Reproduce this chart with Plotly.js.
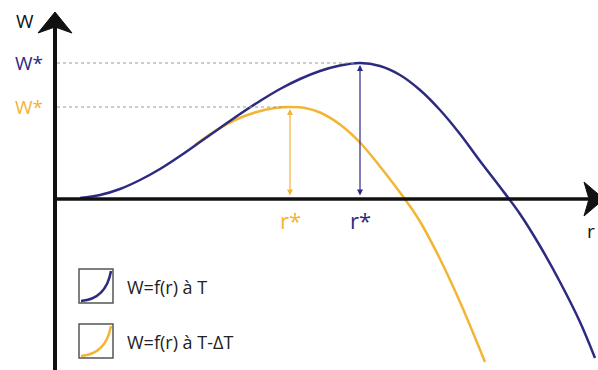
<!DOCTYPE html>
<html>
<head>
<meta charset="utf-8">
<script src="https://cdn.plot.ly/plotly-3.0.1.min.js"></script>
<style>
  html, body { margin: 0; padding: 0; background: #fff; }
  #chart { width: 598px; height: 370px; }
</style>
</head>
<body>
<div id="chart"></div>
<script>
// curve W = f(r) at temperature T (blue) and T - dT (orange), arbitrary units
const rT = [25, 45, 65, 85, 105, 125, 145, 165, 185, 205, 225, 245, 265, 285, 305, 325, 345, 365, 385, 405, 425, 445, 465, 485, 505, 525, 540];
const wT = [1, 4, 10, 19, 30, 43, 57, 71, 85, 98, 110, 120, 128, 133.5, 136, 133, 124, 109, 89, 65, 38, 12, -15, -47, -83, -123, -159];

const rDT = [140, 160, 180, 200, 220, 235, 250, 265, 285, 305, 325, 345, 365, 385, 405, 430];
const wDT = [54, 68, 79, 86.5, 91, 92, 91, 86.5, 74.5, 56.5, 32.5, 6.5, -22.5, -60, -103, -163];

// optimum (r*, W*) for each curve
const rStar = [305, 235];
const wStar = [136, 92];

const BLUE = '#2d2b80';
const ORANGE = '#f2b535';
const FONT = '"Open Sans", sans-serif';

// helpers: picture pixel -> data coords (origin of the axes at pixel 55,199)
const X0 = 55, Y0 = 199;
const px = x => x - X0;
const py = y => Y0 - y;

// orange first so the blue curve is drawn on top
const traces = [
  {
    x: rDT, y: wDT, mode: 'lines', type: 'scatter',
    line: { color: ORANGE, width: 2.5, shape: 'spline', smoothing: 1 },
    hoverinfo: 'skip'
  },
  {
    x: rT, y: wT, mode: 'lines', type: 'scatter',
    line: { color: BLUE, width: 2.5, shape: 'spline', smoothing: 1 },
    hoverinfo: 'skip'
  }
];

const shapes = [];
const annotations = [];
const colors = [BLUE, ORANGE];

rStar.forEach((r, i) => {
  // dotted guide from the W axis to the optimum
  shapes.push({
    type: 'line', xref: 'x', yref: 'y',
    x0: 2, x1: r - 4, y0: wStar[i], y1: wStar[i],
    line: { color: '#9a9a9a', width: 1, dash: 'dot' }
  });
  // double arrow from the r axis up to the optimum
  annotations.push({
    x: r, y: wStar[i] - 2, ax: r, ay: 2,
    xref: 'x', yref: 'y', axref: 'x', ayref: 'y',
    text: '', showarrow: true, arrowside: 'end+start',
    arrowhead: 2, startarrowhead: 2, arrowsize: 1, startarrowsize: 1,
    arrowwidth: 1.2, arrowcolor: colors[i]
  });
  annotations.push({
    x: r, y: py(220), xref: 'x', yref: 'y',
    text: 'r*', showarrow: false,
    font: { family: FONT, size: 22, color: colors[i] }
  });
  annotations.push({
    x: px(29), y: wStar[i], xref: 'x', yref: 'y',
    text: 'W*', showarrow: false,
    font: { family: FONT, size: 19, color: colors[i] }
  });
});

// axes with arrowheads
shapes.push(
  { type: 'line', xref: 'x', yref: 'y', x0: 0, x1: 0, y0: py(372), y1: py(26),
    line: { color: '#111', width: 4 } },
  { type: 'line', xref: 'x', yref: 'y', x0: 0, x1: px(590), y0: 0, y1: 0,
    line: { color: '#111', width: 3.5 } },
  { type: 'path', xref: 'x', yref: 'y',
    path: `M ${px(55)},${py(12)} L ${px(72)},${py(33)} L ${px(55)},${py(27)} L ${px(38)},${py(33)} Z`,
    fillcolor: '#111', line: { color: '#111', width: 1 } },
  { type: 'path', xref: 'x', yref: 'y',
    path: `M ${px(604)},${py(199)} L ${px(584)},${py(182)} L ${px(589)},${py(199)} L ${px(584)},${py(216)} Z`,
    fillcolor: '#111', line: { color: '#111', width: 1 } }
);

annotations.push(
  { x: px(25), y: py(21), xref: 'x', yref: 'y', text: 'W', showarrow: false,
    font: { family: FONT, size: 19, color: '#111' } },
  { x: px(591), y: py(231), xref: 'x', yref: 'y', text: 'r', showarrow: false,
    font: { family: FONT, size: 19, color: '#111' } }
);

// hand-made legend
const legendText = ['W=f(r) à T', 'W=f(r) à T-ΔT'];
const legendTop = [269, 324];
legendTop.forEach((top, i) => {
  const b = top + 34;
  shapes.push({
    type: 'rect', xref: 'x', yref: 'y',
    x0: px(79), x1: px(113), y0: py(top), y1: py(b),
    line: { color: '#555', width: 1.5 }
  });
  shapes.push({
    type: 'path', xref: 'x', yref: 'y',
    path: `M ${px(81)},${py(b - 2)} Q ${px(106)},${py(b - 4)} ${px(111)},${py(top + 2)}`,
    line: { color: colors[i], width: 2.5 }
  });
  annotations.push({
    x: px(125), y: py(top + 18), xref: 'x', yref: 'y',
    xanchor: 'left', text: legendText[i], showarrow: false,
    font: { family: FONT, size: 18, color: '#222' }
  });
});

const layout = {
  width: 598, height: 370,
  margin: { l: 0, r: 0, t: 0, b: 0 },
  paper_bgcolor: '#fff', plot_bgcolor: '#fff',
  showlegend: false,
  xaxis: { range: [px(0), px(598)], visible: false, fixedrange: true },
  yaxis: { range: [py(370), py(0)], visible: false, fixedrange: true },
  shapes: shapes,
  annotations: annotations
};

Plotly.newPlot('chart', traces, layout, { displayModeBar: false, staticPlot: true });
</script>
</body>
</html>
